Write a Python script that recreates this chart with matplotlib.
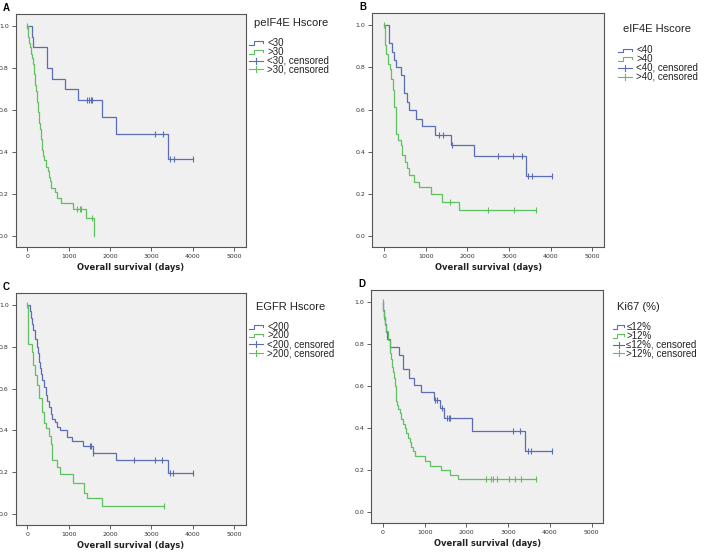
import numpy as np
import matplotlib
matplotlib.use('Agg')
import matplotlib.pyplot as plt

W, H = 709, 554

BLUE = '#5b6cb6'
GREEN = '#5fc05f'

# ---- panel A: peIF4E Hscore ----
a_lo_t = [121, 145, 469, 598, 913, 1220, 1792, 2140, 3395]
a_lo_s = [0.95, 0.90, 0.80, 0.748, 0.699, 0.648, 0.568, 0.486, 0.365]
a_lo_c = [1438, 1494, 1525, 1559, 3089, 3290, 3452, 3548, 4016]
a_hi_t = [24, 40, 65, 89, 121, 145, 169, 194, 210, 226, 258, 282, 298, 323, 347,
          363, 387, 411, 444, 492, 532, 556, 581, 669, 726, 806, 1097, 1404, 1598]
a_hi_s = [0.95, 0.92, 0.90, 0.87, 0.85, 0.82, 0.77, 0.72, 0.69, 0.64, 0.59, 0.54,
          0.51, 0.46, 0.44, 0.41, 0.38, 0.36, 0.33, 0.31, 0.28, 0.26, 0.23, 0.21,
          0.18, 0.155, 0.13, 0.085, 0.0]
a_hi_c = [0, 1210, 1259, 1300, 1559]

# ---- panel B: eIF4E Hscore ----
b_lo_t = [120, 193, 233, 289, 400, 473, 560, 593, 754, 914, 1226, 1596, 2149, 3405]
b_lo_s = [0.918, 0.873, 0.837, 0.80, 0.763, 0.679, 0.636, 0.60, 0.557, 0.521,
          0.478, 0.430, 0.378, 0.285]
b_lo_c = [1306, 1418, 1620, 2724, 3101, 3301, 3462, 3558, 4038]
b_hi_t = [31, 55, 95, 135, 175, 215, 239, 279, 295, 335, 415, 431, 495, 545, 590,
          710, 830, 1120, 1400, 1795]
b_hi_s = [0.905, 0.866, 0.818, 0.794, 0.747, 0.692, 0.612, 0.549, 0.486, 0.454,
          0.430, 0.383, 0.351, 0.32, 0.288, 0.256, 0.23, 0.20, 0.161, 0.122]
b_hi_c = [0, 1580, 2484, 3125, 3646]

# ---- panel C: EGFR Hscore ----
c_lo_t = [64, 88, 120, 144, 185, 225, 249, 281, 305, 321, 361, 401, 441, 482, 522,
          562, 602, 658, 722, 787, 947, 1067, 1348, 1589, 2135, 3395]
c_lo_s = [0.97, 0.94, 0.91, 0.88, 0.84, 0.80, 0.77, 0.73, 0.70, 0.67, 0.64, 0.61,
          0.57, 0.54, 0.51, 0.48, 0.455, 0.44, 0.415, 0.40, 0.37, 0.35, 0.325,
          0.29, 0.258, 0.194]
c_lo_c = [1509, 1549, 1589, 2576, 3074, 3258, 3451, 3531, 3997]
c_hi_t = [8, 16, 24, 104, 144, 193, 241, 289, 345, 401, 449, 522, 562, 602, 722,
          787, 1108, 1375, 1430, 1792]
c_hi_s = [0.963, 0.889, 0.815, 0.777, 0.713, 0.666, 0.618, 0.554, 0.49, 0.435,
          0.41, 0.371, 0.334, 0.26, 0.223, 0.19, 0.148, 0.10, 0.076, 0.037]
c_hi_c = [0, 3315]

# ---- panel D: Ki67 (%) ----
d_lo_t = [10, 20, 48, 80, 96, 176, 393, 473, 633, 753, 912, 1216, 1377, 1464, 2145, 3416]
d_lo_s = [0.964, 0.93, 0.893, 0.857, 0.823, 0.788, 0.749, 0.680, 0.638, 0.607,
          0.570, 0.536, 0.494, 0.450, 0.387, 0.292]
d_lo_c = [1240, 1296, 1425, 1536, 1584, 1617, 3105, 3280, 3479, 3544, 4040]
d_hi_t = [5, 10, 24, 50, 80, 120, 160, 180, 200, 224, 240, 256, 280, 304, 320, 344,
          360, 400, 440, 488, 520, 560, 600, 640, 680, 720, 760, 1000, 1120, 1400,
          1600, 1800]
d_hi_s = [0.978, 0.956, 0.93, 0.89, 0.86, 0.82, 0.78, 0.756, 0.73, 0.69, 0.667,
          0.64, 0.6, 0.56, 0.53, 0.51, 0.49, 0.47, 0.445, 0.42, 0.4, 0.375, 0.355,
          0.333, 0.31, 0.29, 0.267, 0.245, 0.222, 0.20, 0.178, 0.156]
d_hi_c = [0, 30, 2480, 2600, 2640, 2745, 3016, 3160, 3320, 3664]

x_ticks = [0, 1000, 2000, 3000, 4000, 5000]
y_ticks = [0.0, 0.2, 0.4, 0.6, 0.8, 1.0]

panels = [
    # letter, box (left, top, right, bottom px), title, labels, curves, legend layout
    ('A', (15.7, 14.3, 245.7, 247), 'peIF4E Hscore', ['<30', '>30'],
     (a_lo_t, a_lo_s, a_lo_c), (a_hi_t, a_hi_s, a_hi_c),
     dict(title=(254, 23.3), sym=249, symw=14, txt=267, y0=42.7)),
    ('B', (372.3, 13.3, 604, 247), 'eIF4E Hscore', ['<40', '>40'],
     (b_lo_t, b_lo_s, b_lo_c), (b_hi_t, b_hi_s, b_hi_c),
     dict(title=(623, 29.3), sym=618, symw=14, txt=636.5, y0=50)),
    ('C', (15.7, 293.3, 245.7, 525), 'EGFR Hscore', ['<200', '>200'],
     (c_lo_t, c_lo_s, c_lo_c), (c_hi_t, c_hi_s, c_hi_c),
     dict(title=(256, 306.7), sym=249, symw=14, txt=267, y0=326.5)),
    ('D', (371, 290, 603.3, 523.3), 'Ki67 (%)', ['\u226412%', '>12%'],
     (d_lo_t, d_lo_s, d_lo_c), (d_hi_t, d_hi_s, d_hi_c),
     dict(title=(616.7, 307.3), sym=613, symw=11, txt=626.5, y0=326.7)),
]

fig = plt.figure(figsize=(W / 100, H / 100), dpi=100)
fig.patch.set_facecolor('white')

# overlay in pixel coordinates for panel letters and legends
ov = fig.add_axes([0, 0, 1, 1], zorder=5)
ov.set_xlim(0, W)
ov.set_ylim(H, 0)
ov.axis('off')
ov.patch.set_alpha(0)


def surv_at(times, surv, t):
    s = 1.0
    for ti, si in zip(times, surv):
        if ti <= t:
            s = si
    return s


def km(ax, times, surv, cens, color):
    end = max(times[-1], max(cens))
    xs = [0] + list(times) + [end]
    ys = [1.0] + list(surv) + [surv[-1]]
    ax.step(xs, ys, where='post', color=color, lw=0.9, solid_joinstyle='miter')
    cy = [surv_at(times, surv, c) for c in cens]
    ax.plot(cens, cy, ls='none', marker='|', ms=4.5, mew=0.8, color=color)


for letter, box, title, labels, lo, hi, leg in panels:
    l, t, r, b = box
    ax = fig.add_axes([l / W, 1 - b / H, (r - l) / W, (b - t) / H])
    ax.set_facecolor('#f0f0f0')
    km(ax, *lo, BLUE)
    km(ax, *hi, GREEN)
    ax.set_xlim(-285, 5280)
    ax.set_ylim(-0.053, 1.057)
    ax.set_xticks(x_ticks)
    ax.set_yticks(y_ticks)
    ax.set_xticklabels([str(v) for v in x_ticks])
    ax.set_yticklabels(['%.1f' % v for v in y_ticks])
    ax.tick_params(labelsize=4.5, length=3, width=0.6, color='#444444',
                   labelcolor='#333333', pad=2)
    for sp in ax.spines.values():
        sp.set_color('#555555')
        sp.set_linewidth(0.8)
    ax.set_xlabel('Overall survival (days)', fontsize=6, fontweight='bold',
                  labelpad=3, color='#222222')

    ov.text(l - 13, t - 6, letter, fontsize=7, fontweight='bold',
            family='Liberation Sans', ha='left', va='center')

    # legend
    tx, ty = leg['title']
    ov.text(tx, ty, title, fontsize=8, family='Liberation Sans', ha='left',
            va='center', color='#222222')
    x0, x1 = leg['sym'], leg['sym'] + leg['symw']
    xm = (x0 + x1) / 2
    xs = x0 + leg['symw'] * 0.35
    entries = [labels[0], labels[1], labels[0] + ', censored', labels[1] + ', censored']
    colors = [BLUE, GREEN, BLUE, GREEN]
    ys = [leg['y0'] + 8.9 * i for i in range(4)]
    for i, (lab, yy, col) in enumerate(zip(entries, ys, colors)):
        if i < 2:
            ov.plot([x0, xs, xs, x1, x1], [yy + 2, yy + 2, yy - 1.5, yy - 1.5, yy + 0.5],
                    color=col, lw=0.8)
        else:
            ov.plot([x0, x1], [yy, yy], color=col, lw=0.8)
            ov.plot([xm, xm], [yy - 3, yy + 3], color=col, lw=0.8)
        ov.text(leg['txt'], yy, lab, fontsize=7, family='Liberation Sans',
                ha='left', va='center', color='#222222')

fig.savefig('out.png', dpi=100)
